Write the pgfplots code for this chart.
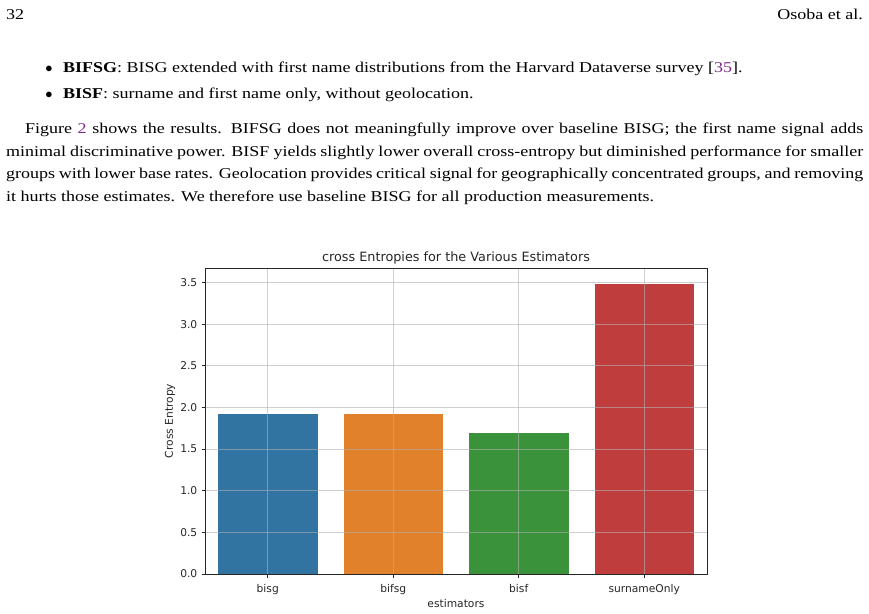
\documentclass[border=0pt]{standalone}
\usepackage{pgfplots}
\pgfplotsset{compat=1.18}
\usepackage{fontspec}
\setmainfont{Liberation Serif}[FakeStretch=1.2]
\newfontfamily\chartfont{DejaVu Sans}

\definecolor{citepurple}{RGB}{128,40,140}
\definecolor{sbblue}{RGB}{50,116,161}
\definecolor{sborange}{RGB}{225,129,44}
\definecolor{sbgreen}{RGB}{58,146,58}
\definecolor{sbred}{RGB}{192,61,62}
\definecolor{inkgray}{RGB}{38,38,38}

\newcommand{\pagefont}{\fontsize{15}{22.6}\selectfont}

\begin{document}
\begin{tikzpicture}[x=1pt,y=1pt]
\useasboundingbox (0,0) rectangle (869,-613);

% running head
\node[anchor=base west,inner sep=0] at (6,-19) {\pagefont 32};
\node[anchor=base east,inner sep=0] at (863,-19) {\pagefont Osoba et al.};

% bullet list
\node[anchor=base,inner sep=0] at (49,-72) {\pagefont$\bullet$};
\node[anchor=base west,inner sep=0] at (63,-72) {\pagefont\textbf{BIFSG}: BISG extended with first name distributions from the Harvard Dataverse survey [\textcolor{citepurple}{35}].};
\node[anchor=base,inner sep=0] at (49,-98.5) {\pagefont$\bullet$};
\node[anchor=base west,inner sep=0] at (63,-98.5) {\pagefont\textbf{BISF}: surname and first name only, without geolocation.};

% paragraph
\node[anchor=base west,inner sep=0] at (25,-133.5) {\pagefont\makebox[838pt][s]{Figure \textcolor{citepurple}{2} shows the results. BIFSG does not meaningfully improve over baseline BISG; the first name signal adds}};
\node[anchor=base west,inner sep=0] at (6,-156.2) {\pagefont\makebox[857pt][s]{minimal discriminative power. BISF yields slightly lower overall cross-entropy but diminished performance for smaller}};
\node[anchor=base west,inner sep=0] at (6,-178.8) {\pagefont\makebox[857pt][s]{groups with lower base rates. Geolocation provides critical signal for geographically concentrated groups, and removing}};
\node[anchor=base west,inner sep=0] at (6,-201.5) {\pagefont it hurts those estimates. We therefore use baseline BISG for all production measurements.};

% bar chart of cross entropies
\begin{axis}[
  at={(205pt,-574pt)}, anchor=south west,
  scale only axis, width=502pt, height=306pt,
  xmin=-0.5, xmax=3.5, ymin=0, ymax=3.675,
  xtick={0,1,2,3},
  xticklabels={bisg,bifsg,bisf,surnameOnly},
  ytick={0,0.5,1,1.5,2,2.5,3,3.5},
  /pgf/number format/fixed,
  /pgf/number format/fixed zerofill,
  /pgf/number format/precision=1,
  /pgf/number format/assume math mode=true,
  tick label style={font=\chartfont\fontsize{10.7}{12}\selectfont, text=inkgray},
  xticklabel style={anchor=north, inner sep=0pt, yshift=-7pt},
  yticklabel style={anchor=east, inner sep=0pt, xshift=-4pt},
  xtick pos=bottom, ytick pos=left,
  tick align=outside, major tick length=3.5pt,
  tick style={inkgray, line width=0.8pt},
  axis line style={inkgray, line width=0.8pt},
  grid=major,
  major grid style={color=black!31, opacity=0.6, line width=0.8pt},
  axis on top,
  title={cross Entropies for the Various Estimators},
  title style={font=\chartfont\fontsize{12.8}{14}\selectfont, text=inkgray, anchor=south, inner sep=0pt, at={(axis description cs:0.5,1)}, yshift=-2pt},
  xlabel={estimators},
  ylabel={Cross Entropy},
  label style={font=\chartfont\fontsize{10.7}{12}\selectfont, text=inkgray},
  xlabel style={at={(axis description cs:0.5,-0.0948)}, anchor=center, inner sep=0pt},
  ylabel style={at={(axis description cs:-0.0697,0.5)}, anchor=center, inner sep=0pt},
]
\addplot[ybar, bar width=0.8, bar shift=0pt, fill=sbblue, draw=white, line width=0.4pt] coordinates {(0,1.93)};
\addplot[ybar, bar width=0.8, bar shift=0pt, fill=sborange, draw=white, line width=0.4pt] coordinates {(1,1.93)};
\addplot[ybar, bar width=0.8, bar shift=0pt, fill=sbgreen, draw=white, line width=0.4pt] coordinates {(2,1.70)};
\addplot[ybar, bar width=0.8, bar shift=0pt, fill=sbred, draw=white, line width=0.4pt] coordinates {(3,3.49)};
\end{axis}
\end{tikzpicture}
\end{document}
